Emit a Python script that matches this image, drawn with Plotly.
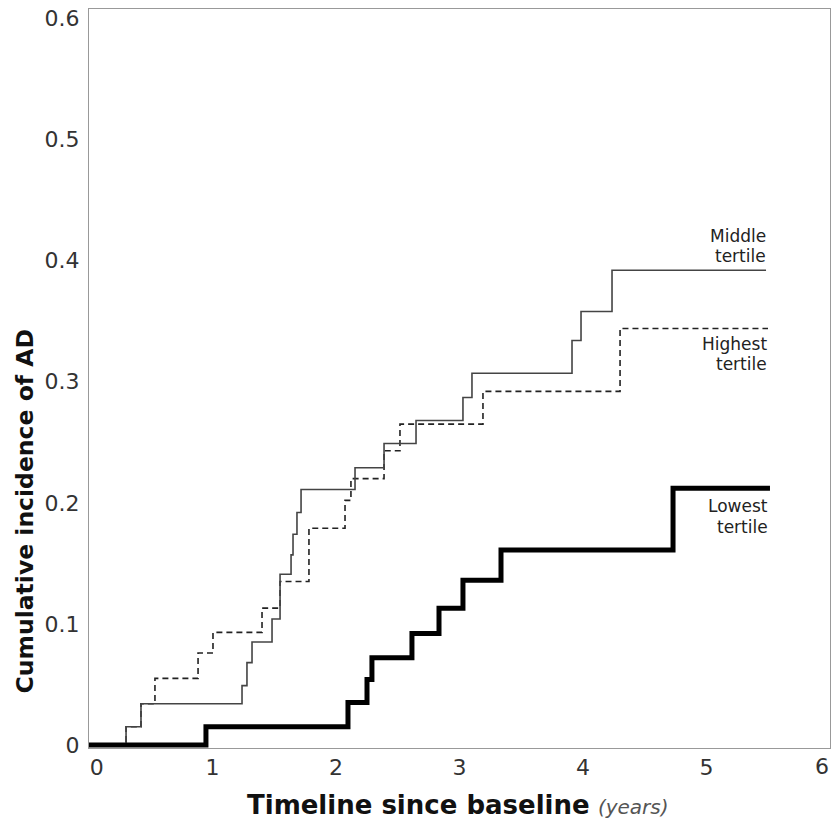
import plotly.graph_objects as go

# ---- data ----
low_t = [0, 0.947, 2.097, 2.251, 2.291, 2.615, 2.834, 3.028, 3.336, 4.729, 5.514]
low_y = [0, 0.015, 0.035, 0.054, 0.072, 0.092, 0.113, 0.136, 0.161, 0.212, 0.212]

mid_t = [0, 0.300, 0.421, 1.239, 1.279, 1.320, 1.482, 1.547, 1.636, 1.652, 1.684, 1.717,
         2.154, 2.389, 2.648, 3.028, 3.101, 3.911, 3.984, 4.235, 5.482]
mid_y = [0, 0.015, 0.034, 0.049, 0.068, 0.085, 0.104, 0.141, 0.157, 0.174, 0.192, 0.211,
         0.229, 0.249, 0.268, 0.287, 0.307, 0.334, 0.358, 0.392, 0.392]

high_t = [0, 0.300, 0.421, 0.534, 0.883, 1.004, 1.401, 1.547, 1.781, 2.073, 2.121, 2.389,
          2.518, 3.190, 4.300, 5.498]
high_y = [0, 0.015, 0.034, 0.055, 0.076, 0.093, 0.113, 0.135, 0.179, 0.202, 0.220, 0.243,
          0.265, 0.292, 0.344, 0.344]

x_ticks = [0, 1, 2, 3, 4, 5]
x_ticklabels = ["\u2002\u20090", "1", "2", "3", "4", "5"]
x_last_tick = "6"   # drawn at the right edge of the frame
y_ticks = [0, 0.1, 0.2, 0.3, 0.4, 0.5, 0.6]
y_ticklabels = ["0", "0.1", "0.2", "0.3", "0.4", "0.5", "0.6"]

labels = [
    ("Middle", "tertile", 5.495, 0.4205, 0.404),
    ("Highest", "tertile", 5.505, 0.331, 0.3145),
    ("Lowest", "tertile", 5.514, 0.1975, 0.180),
]

FONT = "DejaVu Sans"

fig = go.Figure()
fig.add_trace(go.Scatter(x=high_t, y=high_y, mode="lines", line_shape="hv",
                         line=dict(color="#222222", width=1.6, dash="6px,4px"),
                         showlegend=False, hoverinfo="skip"))
fig.add_trace(go.Scatter(x=mid_t, y=mid_y, mode="lines", line_shape="hv",
                         line=dict(color="#444444", width=1.6),
                         showlegend=False, hoverinfo="skip"))
fig.add_trace(go.Scatter(x=low_t, y=low_y, mode="lines", line_shape="hv",
                         line=dict(color="#000000", width=5),
                         showlegend=False, hoverinfo="skip"))

for l1, l2, xr, y1, y2 in labels:
    for txt, yy in ((l1, y1), (l2, y2)):
        fig.add_annotation(x=xr, y=yy, xref="x", yref="y", text=txt, showarrow=False,
                           xanchor="right", yanchor="middle",
                           font=dict(family=FONT, size=17, color="#222222"))

# last x tick label kept inside the page
fig.add_annotation(x=1.0, y=-0.0257, xref="paper", yref="paper", text=x_last_tick,
                   showarrow=False, xanchor="right", yanchor="middle", borderpad=0,
                   font=dict(family=FONT, size=22, color="#333333"))

# axis titles as annotations
fig.add_annotation(x=-0.0864, y=0.32, xref="paper", yref="paper",
                   text="<b>Cumulative incidence of AD</b>", textangle=-90,
                   showarrow=False, xanchor="center", yanchor="middle",
                   font=dict(family=FONT, size=23.5, color="#111111"))
fig.add_annotation(x=0.498, y=-0.0771, xref="paper", yref="paper",
                   text="<b>Timeline since baseline</b> <span style='font-size:20px;color:#555555'><i>(years)</i></span>",
                   showarrow=False, xanchor="center", yanchor="middle",
                   font=dict(family=FONT, size=26, color="#111111"))

axis_common = dict(showgrid=False, zeroline=False, showline=True, mirror=True,
                   linecolor="#999999", linewidth=1, ticks="", automargin=False,
                   tickfont=dict(family=FONT, size=22, color="#333333"))

fig.update_xaxes(range=[0, 6.0], tickvals=x_ticks, ticktext=x_ticklabels, **axis_common)
fig.update_yaxes(range=[-0.0025, 0.6078], tickvals=y_ticks, ticktext=y_ticklabels,
                 ticklabelstandoff=4, **axis_common)

fig.update_layout(width=833, height=826, margin=dict(l=89, r=3, t=9, b=78),
                  paper_bgcolor="white", plot_bgcolor="white")

fig.write_html("out.html")
